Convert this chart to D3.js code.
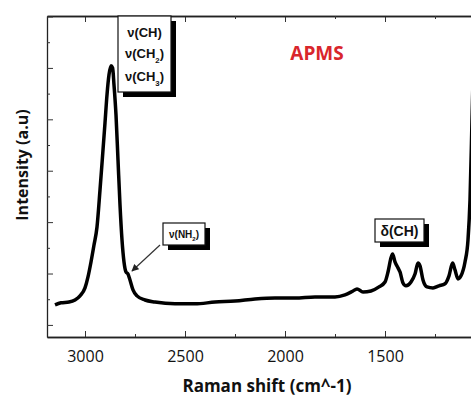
<!DOCTYPE html>
<html>
<head>
<meta charset="utf-8">
<script src="https://cdn.jsdelivr.net/npm/d3@7"></script>
<style>
  html, body { margin: 0; padding: 0; background: #fff; }
  #container { width: 471px; height: 398px; overflow: hidden; }
  text { font-family: "Open Sans", sans-serif; }
  .ann text { font-family: "Liberation Sans", Arial, sans-serif; font-weight: bold; }
</style>
</head>
<body>
<div id="container"></div>
<script>
// Raman shift (cm-1), high -> low
const ramanShift = [3150, 3120, 3080, 3050, 3025, 3000, 2985, 2970, 2955, 2940, 2925, 2910, 2900, 2890, 2880, 2870,
  2862, 2855, 2845, 2835, 2825, 2815, 2805, 2795, 2785, 2775, 2760, 2740, 2700, 2650, 2550, 2450, 2350, 2250,
  2150, 2050, 1950, 1850, 1750, 1700, 1660, 1640, 1610, 1570, 1530, 1500, 1485, 1470, 1462, 1450, 1435, 1425,
  1410, 1395, 1370, 1350, 1335, 1325, 1310, 1290, 1260, 1230, 1200, 1180, 1162, 1150, 1135, 1120, 1100, 1085,
  1075, 1065, 1055];
// intensity (a.u.)
const intensity = [0.78, 0.86, 0.89, 0.97, 1.13, 1.44, 1.87, 2.45, 3.11, 3.81, 5.25, 6.81, 7.86, 8.95, 9.73, 10.08,
  10.0, 9.34, 8.17, 6.42, 4.67, 3.31, 2.45, 2.06, 1.98, 1.75, 1.36, 1.13, 0.97, 0.89, 0.82, 0.82, 0.89, 0.93,
  1.01, 1.05, 1.05, 1.09, 1.09, 1.17, 1.32, 1.40, 1.28, 1.32, 1.48, 1.67, 2.06, 2.61, 2.76, 2.45, 2.22, 2.06,
  1.63, 1.52, 1.67, 1.98, 2.41, 2.30, 1.75, 1.48, 1.44, 1.52, 1.60, 1.91, 2.41, 2.14, 1.79, 1.91, 2.45, 3.31,
  4.86, 7.98, 11.09];

const xMajorTicks = [3000, 2500, 2000, 1500];
const xMinorTicks = [2750, 2250, 1750, 1250];
const yTicks = d3.range(0, 13);

const xDomain = [3190, 975];
const yDomain = [-0.47, 12.02];

// boxed peak labels: text pieces [main, subscript, tail], box [x, y, w, h], line centres
const peakLabels = [
  { lines: [['ν(CH)'], ['ν(CH', '2', ')'], ['ν(CH', '3', ')']], box: [118, 16, 53, 76], size: 13, lineY: [32, 53, 76] },
  { lines: [['ν(NH', '2', ')']], box: [163, 223, 42, 22], size: 10, lineY: [234] },
  { lines: [['δ(CH)']], box: [375, 219, 49, 23], size: 14, lineY: [231] }
];

const margin = { top: 16, left: 47, bottom: 61, right: -19 };
const width = 471, height = 398;

let svg = null;
let x = null;
let y = null;

function init() {
  svg = d3.select('#container').append('svg')
    .attr('width', width)
    .attr('height', height);

  x = d3.scaleLinear().domain(xDomain).range([margin.left, width - margin.right]);
  y = d3.scaleLinear().domain(yDomain).range([height - margin.bottom, margin.top]);

  renderAxes();
  renderLine();
  renderLabels();
}

function renderAxes() {
  const x0 = x.range()[0], x1 = x.range()[1];
  const y0 = y.range()[0], y1 = y.range()[1];

  // bottom axis, ticks pointing in
  const bottom = svg.append('g').attr('transform', `translate(0,${y0})`);
  bottom.call(d3.axisBottom(x).tickValues(xMajorTicks).tickSizeInner(-6).tickSizeOuter(0)
    .tickPadding(14).tickFormat(d3.format('d')));
  bottom.append('g').call(d3.axisBottom(x).tickValues(xMinorTicks).tickSizeInner(-3).tickSizeOuter(0).tickFormat(''));

  // top mirror
  const top = svg.append('g').attr('transform', `translate(0,${y1})`);
  top.call(d3.axisTop(x).tickValues(xMajorTicks).tickSizeInner(-6).tickSizeOuter(0).tickFormat(''));
  top.append('g').call(d3.axisTop(x).tickValues(xMinorTicks).tickSizeInner(-3).tickSizeOuter(0).tickFormat(''));

  // left axis, no labels
  const left = svg.append('g').attr('transform', `translate(${x0},0)`);
  left.call(d3.axisLeft(y).tickValues(yTicks).tickSizeOuter(0).tickFormat(''));
  left.selectAll('.tick line').attr('x2', d => d % 2 === 0 ? 6 : 3);

  svg.selectAll('.domain').attr('stroke', '#222').attr('stroke-width', 1.3);
  svg.selectAll('.tick line').attr('stroke', '#333');

  bottom.selectAll('text')
    .attr('font-family', '"Open Sans", sans-serif')
    .attr('font-size', 16)
    .attr('fill', '#111');

  svg.append('text')
    .attr('x', 267).attr('y', 392)
    .attr('text-anchor', 'middle')
    .attr('font-size', 17).attr('font-weight', 'bold')
    .attr('fill', '#111')
    .text('Raman shift (cm^-1)');

  svg.append('text')
    .attr('transform', 'translate(28,165) rotate(-90)')
    .attr('text-anchor', 'middle')
    .attr('font-size', 16).attr('font-weight', 'bold')
    .attr('fill', '#111')
    .text('Intensity (a.u)');

  svg.append('text')
    .attr('x', 317).attr('y', 60)
    .attr('text-anchor', 'middle')
    .attr('font-size', 19).attr('font-weight', 'bold')
    .attr('fill', '#d9262c')
    .text('APMS');
}

function renderLine() {
  svg.append('clipPath').attr('id', 'plot-clip')
    .append('rect')
    .attr('x', x.range()[0]).attr('y', y.range()[1])
    .attr('width', x.range()[1] - x.range()[0])
    .attr('height', y.range()[0] - y.range()[1]);

  const pts = ramanShift.map((w, i) => [w, intensity[i]]);
  const line = d3.line()
    .x(d => x(d[0]))
    .y(d => y(d[1]))
    .curve(d3.curveMonotoneX);

  svg.append('path')
    .datum(pts)
    .attr('clip-path', 'url(#plot-clip)')
    .attr('d', line)
    .attr('fill', 'none')
    .attr('stroke', '#000')
    .attr('stroke-width', 3.5)
    .attr('stroke-linejoin', 'round');
}

function renderLabels() {
  const defs = svg.append('defs');
  defs.append('marker')
    .attr('id', 'arrow')
    .attr('viewBox', '0 0 10 10')
    .attr('refX', 9).attr('refY', 5)
    .attr('markerWidth', 6).attr('markerHeight', 6)
    .attr('orient', 'auto')
    .append('path').attr('d', 'M0,0L10,5L0,10z').attr('fill', '#222');

  // arrow to the NH2 shoulder
  svg.append('line')
    .attr('x1', 160).attr('y1', 245)
    .attr('x2', 132).attr('y2', 271)
    .attr('stroke', '#333').attr('stroke-width', 1.2)
    .attr('marker-end', 'url(#arrow)');

  const g = svg.append('g').attr('class', 'ann');
  peakLabels.forEach(p => {
    const [bx, by, bw, bh] = p.box;
    g.append('rect')
      .attr('x', bx + 5).attr('y', by + 5)
      .attr('width', bw).attr('height', bh)
      .attr('fill', '#000');
    g.append('rect')
      .attr('x', bx).attr('y', by)
      .attr('width', bw).attr('height', bh)
      .attr('fill', '#fff')
      .attr('stroke', '#111').attr('stroke-width', 1.2);
    p.lines.forEach((ln, i) => {
      const t = g.append('text')
        .attr('x', bx + bw / 2)
        .attr('y', p.lineY[i])
        .attr('dy', '0.35em')
        .attr('text-anchor', 'middle')
        .attr('font-size', p.size)
        .attr('fill', '#111');
      t.append('tspan').text(ln[0]);
      if (ln.length > 2) {
        t.append('tspan').attr('baseline-shift', 'sub').attr('font-size', p.size * 0.6).text(ln[1]);
        t.append('tspan').text(ln[2]);
      }
    });
  });
}

init();
</script>
</body>
</html>
